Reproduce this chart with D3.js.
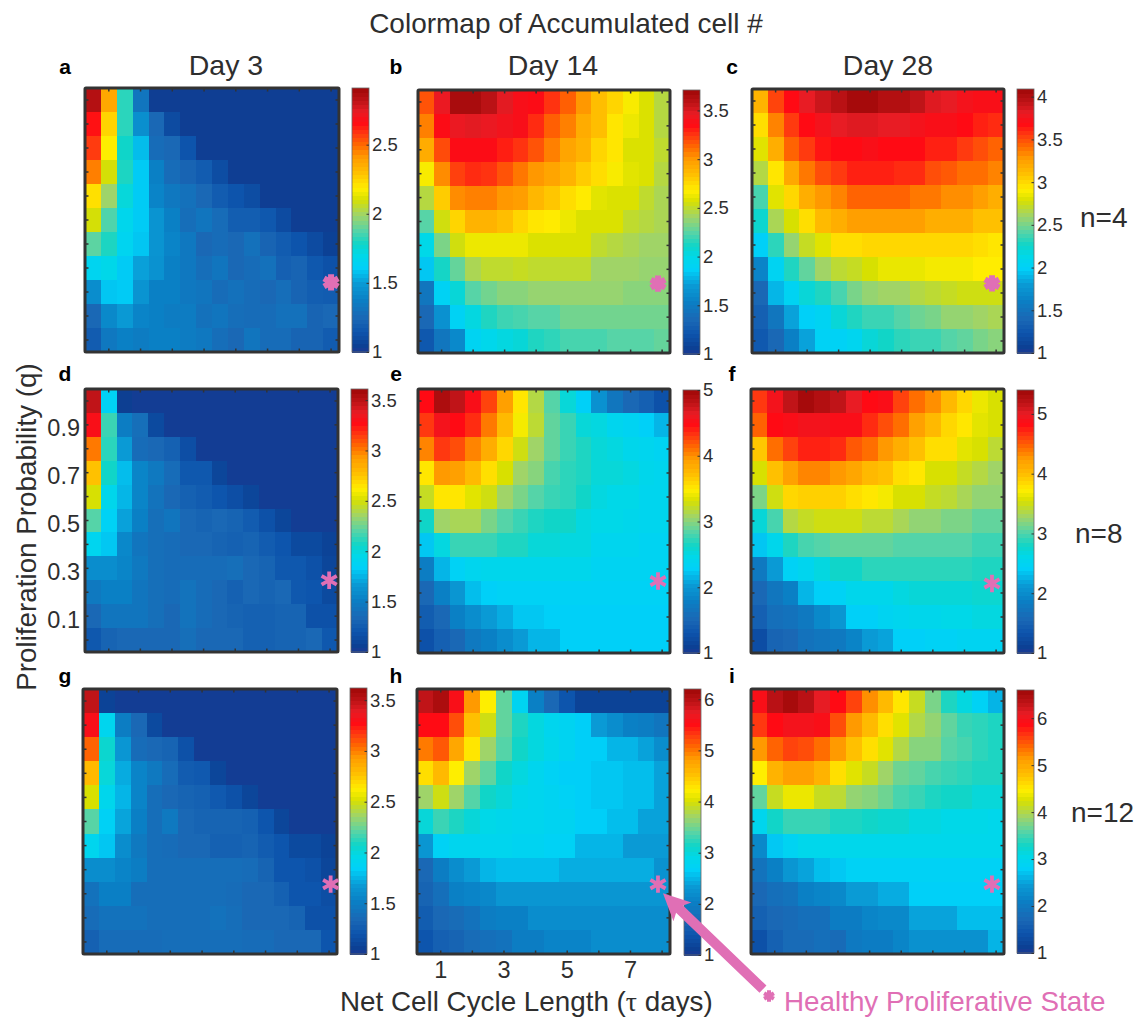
<!DOCTYPE html>
<html>
<head>
<meta charset="utf-8">
<script src="https://cdn.jsdelivr.net/npm/d3@7"></script>
<style>
body{margin:0;background:#fff;}
text{font-family:"Liberation Sans",Arial,sans-serif;fill:#2e2e2e;}
</style>
</head>
<body>
<div id="chart"></div>
<script>
const tauValues = [0.5,1,1.5,2,2.5,3,3.5,4,4.5,5,5.5,6,6.5,7,7.5,8];
const qValues = [1,0.9,0.8,0.7,0.6,0.5,0.4,0.3,0.2,0.1,0];
const tauTicks = [1,3,5,7];
const qTicks = [0.9,0.7,0.5,0.3,0.1];
const panelLetters = ["a","b","c","d","e","f","g","h","i"];
const dayLabels = ["Day 3","Day 14","Day 28"];
const nLabels = ["n=4","n=8","n=12"];
const barMax = [2.91,3.71,4.09,3.61,5,5.4,3.62,6.2,6.6];
const barTicks = [
  [1,1.5,2,2.5],[1,1.5,2,2.5,3,3.5],[1,1.5,2,2.5,3,3.5,4],
  [1,1.5,2,2.5,3,3.5],[1,2,3,4,5],[1,2,3,4,5],
  [1,1.5,2,2.5,3,3.5],[1,2,3,4,5,6],[1,2,3,4,5,6]
];
const healthyTau = [8,7.87,7.87,7.97,7.87,7.87,8.05,7.87,7.87];
const healthyQ = [0.24,0.24,0.24,0.25,0.25,0.24,0.24,0.24,0.24];

const dataA = [
[2.85,2.37,1.82,1.32,1.03,1.03,1.03,1.03,1.03,1.03,1.03,1.03,1.03,1.03,1.03,1.03],
[2.65,2.25,1.82,1.45,1.25,1.1,1.03,1.03,1.03,1.03,1.03,1.03,1.03,1.03,1.03,1.03],
[2.58,2.18,1.78,1.57,1.27,1.25,1.15,1.03,1.03,1.03,1.03,1.03,1.03,1.03,1.03,1.03],
[2.46,2.1,1.8,1.6,1.38,1.27,1.23,1.19,1.11,1.03,1.03,1.03,1.03,1.03,1.03,1.03],
[2.22,1.99,1.74,1.6,1.4,1.34,1.3,1.25,1.19,1.15,1.11,1.03,1.03,1.03,1.03,1.03],
[2.1,1.87,1.68,1.6,1.47,1.38,1.28,1.32,1.27,1.2,1.2,1.17,1.1,1.03,1.03,1.03],
[1.89,1.8,1.66,1.59,1.47,1.4,1.34,1.25,1.27,1.25,1.3,1.23,1.19,1.15,1.1,1.05],
[1.66,1.7,1.6,1.51,1.46,1.38,1.34,1.28,1.32,1.25,1.27,1.3,1.21,1.23,1.17,1.13],
[1.44,1.59,1.6,1.47,1.38,1.38,1.34,1.32,1.27,1.3,1.27,1.25,1.28,1.23,1.2,1.19],
[1.25,1.42,1.49,1.4,1.38,1.36,1.36,1.3,1.32,1.28,1.27,1.27,1.3,1.3,1.23,1.25],
[1.19,1.34,1.38,1.36,1.38,1.38,1.36,1.34,1.28,1.25,1.32,1.27,1.27,1.23,1.23,1.19]];
const dataB = [
[3.18,3.45,3.67,3.67,3.6,3.48,3.39,3.37,3.26,3.15,3.01,2.85,2.77,2.66,2.58,2.47],
[3.07,3.37,3.45,3.48,3.45,3.42,3.39,3.28,3.15,3.07,2.93,2.85,2.71,2.63,2.58,2.47],
[2.93,3.2,3.37,3.37,3.37,3.31,3.26,3.18,3.07,2.96,2.9,2.77,2.71,2.58,2.58,2.5],
[2.66,3.04,3.23,3.28,3.26,3.18,3.09,3.01,2.96,2.9,2.8,2.74,2.66,2.6,2.58,2.47],
[2.47,2.8,3.04,3.07,3.07,3.01,2.99,2.88,2.82,2.74,2.69,2.6,2.58,2.58,2.5,2.44],
[2.25,2.55,2.77,2.9,2.9,2.85,2.77,2.71,2.69,2.63,2.58,2.58,2.58,2.5,2.47,2.44],
[2,2.33,2.55,2.63,2.63,2.63,2.63,2.58,2.58,2.58,2.58,2.5,2.47,2.44,2.41,2.41],
[1.84,2.12,2.28,2.44,2.5,2.5,2.52,2.5,2.5,2.5,2.5,2.41,2.41,2.41,2.39,2.39],
[1.46,1.9,2.06,2.25,2.31,2.36,2.36,2.39,2.39,2.39,2.39,2.39,2.39,2.36,2.36,2.36],
[1.35,1.65,1.9,2.03,2.14,2.2,2.22,2.25,2.25,2.31,2.31,2.31,2.31,2.31,2.31,2.31],
[1.24,1.46,1.6,1.92,1.98,2.03,2.06,2.14,2.17,2.22,2.22,2.22,2.25,2.25,2.25,2.28]];
const dataC = [
[3.16,3.53,3.69,3.81,3.9,3.97,4.06,4.06,4,4,3.94,3.84,3.81,3.75,3.72,3.72],
[2.98,3.35,3.56,3.69,3.75,3.81,3.84,3.84,3.81,3.81,3.75,3.72,3.72,3.69,3.63,3.6],
[2.82,3.19,3.44,3.56,3.66,3.69,3.69,3.72,3.69,3.69,3.69,3.63,3.63,3.56,3.5,3.44],
[2.67,2.95,3.22,3.38,3.5,3.56,3.63,3.63,3.63,3.6,3.6,3.5,3.47,3.41,3.41,3.35],
[2.39,2.82,3.01,3.19,3.29,3.35,3.44,3.44,3.44,3.44,3.38,3.38,3.32,3.32,3.26,3.19],
[2.24,2.64,2.79,2.98,3.13,3.19,3.26,3.26,3.26,3.26,3.26,3.19,3.19,3.19,3.1,3.1],
[1.99,2.33,2.58,2.73,2.82,2.98,2.98,3.01,3.01,3.01,3.01,3.01,3.01,3.01,2.98,2.95],
[1.65,2.05,2.3,2.45,2.61,2.7,2.73,2.79,2.85,2.85,2.85,2.88,2.88,2.88,2.92,2.92],
[1.4,1.9,2.05,2.21,2.3,2.39,2.51,2.58,2.61,2.61,2.67,2.7,2.73,2.76,2.76,2.76],
[1.34,1.53,1.83,1.99,2.05,2.21,2.3,2.36,2.36,2.42,2.48,2.51,2.58,2.58,2.61,2.64],
[1.28,1.4,1.62,1.83,2.02,2.02,2.08,2.21,2.27,2.33,2.36,2.36,2.42,2.45,2.51,2.55]];
const dataD = [
[3.48,1.86,1.05,1.03,1.03,1.03,1.03,1.03,1.03,1.03,1.03,1.03,1.03,1.03,1.03,1.03],
[3.3,2.15,1.5,1.39,1.13,1.03,1.03,1.03,1.03,1.03,1.03,1.03,1.03,1.03,1.03,1.03],
[3.01,2.12,1.68,1.37,1.34,1.29,1.16,1.03,1.03,1.03,1.03,1.03,1.03,1.03,1.03,1.03],
[2.77,2.07,1.78,1.55,1.47,1.37,1.23,1.23,1.1,1.03,1.03,1.03,1.03,1.03,1.03,1.03],
[2.51,1.94,1.76,1.55,1.42,1.34,1.29,1.26,1.21,1.16,1.1,1.03,1.03,1.03,1.03,1.03],
[2.2,1.86,1.7,1.52,1.39,1.44,1.34,1.31,1.34,1.31,1.26,1.18,1.1,1.03,1.03,1.03],
[1.91,1.81,1.57,1.44,1.39,1.37,1.34,1.34,1.31,1.29,1.31,1.26,1.21,1.13,1.13,1.08],
[1.6,1.6,1.55,1.47,1.39,1.37,1.37,1.37,1.37,1.39,1.34,1.31,1.23,1.23,1.18,1.1],
[1.47,1.52,1.52,1.44,1.39,1.37,1.42,1.37,1.34,1.29,1.34,1.31,1.34,1.23,1.21,1.13],
[1.34,1.44,1.44,1.44,1.39,1.34,1.42,1.37,1.34,1.31,1.29,1.29,1.31,1.31,1.18,1.18],
[1.23,1.31,1.34,1.34,1.34,1.34,1.39,1.34,1.34,1.34,1.29,1.29,1.31,1.31,1.34,1.23]];
const dataE = [
[4.48,4.92,4.8,4.52,4.28,3.92,3.52,3.16,2.84,2.56,2.28,1.96,1.68,1.52,1.44,1.28],
[4.32,4.56,4.48,4.36,4.08,3.76,3.44,3.2,2.88,2.76,2.56,2.52,2.4,2.36,2.28,2.16],
[4.04,4.32,4.24,4.04,3.84,3.6,3.28,3.08,2.88,2.76,2.68,2.56,2.52,2.44,2.4,2.36],
[3.52,3.96,3.92,3.76,3.56,3.32,3.08,3,2.8,2.72,2.68,2.56,2.56,2.52,2.44,2.4],
[3.24,3.52,3.52,3.36,3.28,3.08,2.96,2.84,2.76,2.72,2.64,2.52,2.48,2.48,2.4,2.4],
[2.64,3.08,3.12,3.12,2.96,2.84,2.76,2.68,2.64,2.64,2.52,2.48,2.48,2.44,2.4,2.4],
[2.24,2.52,2.76,2.76,2.76,2.68,2.68,2.56,2.56,2.52,2.52,2.4,2.4,2.4,2.36,2.36],
[1.76,2.16,2.32,2.4,2.44,2.44,2.44,2.44,2.44,2.44,2.44,2.36,2.36,2.36,2.36,2.36],
[1.52,1.8,2,2.2,2.28,2.32,2.32,2.32,2.32,2.32,2.32,2.32,2.32,2.32,2.32,2.32],
[1.4,1.52,1.8,1.92,2.04,2.12,2.24,2.24,2.28,2.28,2.28,2.28,2.28,2.28,2.28,2.28],
[1.28,1.44,1.52,1.72,1.8,1.92,2.04,2.16,2.16,2.28,2.28,2.28,2.28,2.28,2.28,2.28]];
const dataF = [
[4.65,4.92,5.18,5.36,5.27,5.18,5,4.83,4.87,4.61,4.43,4.3,4.04,3.86,3.64,3.55],
[4.48,4.83,4.87,4.92,4.92,4.87,4.87,4.7,4.56,4.43,4.21,4.04,3.86,3.77,3.6,3.55],
[3.95,4.43,4.61,4.74,4.74,4.7,4.52,4.43,4.26,4.12,3.99,3.82,3.82,3.6,3.55,3.42],
[3.55,3.99,4.21,4.34,4.34,4.26,4.17,4.04,3.99,3.82,3.77,3.55,3.55,3.46,3.38,3.29],
[3.16,3.51,3.86,3.9,3.9,3.9,3.82,3.77,3.68,3.55,3.55,3.46,3.42,3.33,3.24,3.24],
[2.72,2.98,3.38,3.46,3.51,3.51,3.51,3.42,3.42,3.33,3.24,3.24,3.16,3.16,3.07,3.07],
[2.36,2.58,2.85,2.98,3.02,3.07,3.07,3.07,3.07,3.02,3.02,3.02,3.02,3.02,2.94,2.94],
[1.79,2.14,2.45,2.54,2.67,2.8,2.8,2.89,2.89,2.89,2.89,2.89,2.89,2.89,2.85,2.85],
[1.57,1.75,1.88,2.28,2.41,2.45,2.58,2.58,2.58,2.67,2.72,2.72,2.72,2.72,2.76,2.76],
[1.48,1.66,1.7,1.79,1.97,2.1,2.41,2.41,2.5,2.54,2.58,2.58,2.63,2.63,2.67,2.67],
[1.26,1.53,1.57,1.7,1.75,1.79,1.92,2.14,2.19,2.41,2.41,2.45,2.45,2.5,2.5,2.5]];
const dataG = [
[3.49,1.08,1.03,1.03,1.03,1.03,1.03,1.03,1.03,1.03,1.03,1.03,1.03,1.03,1.03,1.03],
[3.31,1.92,1.5,1.34,1.13,1.03,1.03,1.03,1.03,1.03,1.03,1.03,1.03,1.03,1.03,1.03],
[3.07,2.05,1.66,1.37,1.34,1.31,1.18,1.03,1.03,1.03,1.03,1.03,1.03,1.03,1.03,1.03],
[2.81,2.02,1.73,1.55,1.47,1.37,1.26,1.24,1.1,1.03,1.03,1.03,1.03,1.03,1.03,1.03],
[2.52,1.94,1.76,1.55,1.39,1.34,1.31,1.29,1.24,1.18,1.1,1.03,1.03,1.03,1.03,1.03],
[2.21,1.86,1.71,1.52,1.39,1.47,1.34,1.31,1.31,1.31,1.29,1.21,1.1,1.03,1.03,1.03],
[1.92,1.81,1.6,1.47,1.39,1.37,1.34,1.34,1.29,1.29,1.31,1.26,1.21,1.13,1.13,1.08],
[1.6,1.6,1.55,1.5,1.39,1.39,1.39,1.39,1.39,1.39,1.37,1.31,1.21,1.21,1.18,1.1],
[1.42,1.52,1.52,1.39,1.39,1.39,1.39,1.39,1.39,1.37,1.34,1.34,1.29,1.21,1.21,1.16],
[1.37,1.42,1.42,1.42,1.39,1.39,1.39,1.39,1.42,1.39,1.34,1.34,1.34,1.31,1.18,1.18],
[1.29,1.37,1.37,1.37,1.37,1.39,1.39,1.39,1.39,1.39,1.37,1.37,1.34,1.34,1.34,1.21]];
const dataH = [
[5.94,6.1,5.58,4.85,4.22,3.44,2.77,2.04,1.68,1.42,1.16,1.16,1.16,1.16,1.16,1.16],
[5.52,5.52,5.21,4.54,3.96,3.44,3.18,2.98,2.82,2.77,2.66,2.35,2.2,2.04,1.99,1.88],
[5,5.16,4.74,4.28,3.7,3.39,3.13,2.98,2.87,2.77,2.66,2.66,2.51,2.51,2.4,2.2],
[4.33,4.59,4.22,3.7,3.44,3.13,2.98,2.82,2.72,2.66,2.66,2.61,2.61,2.56,2.56,2.4],
[3.7,3.96,3.7,3.39,3.13,3.03,2.87,2.82,2.77,2.72,2.66,2.61,2.61,2.56,2.56,2.4],
[3.03,3.29,3.18,3.03,2.92,2.87,2.82,2.82,2.77,2.77,2.66,2.66,2.56,2.56,2.4,2.4],
[2.3,2.72,2.82,2.82,2.82,2.82,2.77,2.77,2.72,2.72,2.51,2.51,2.51,2.35,2.35,2.35],
[1.68,1.99,2.2,2.35,2.51,2.56,2.56,2.56,2.56,2.46,2.46,2.46,2.46,2.46,2.46,2.25],
[1.62,1.78,2.04,2.09,2.14,2.3,2.3,2.3,2.3,2.3,2.3,2.3,2.3,2.3,2.3,2.3],
[1.52,1.68,1.73,1.83,1.99,2.04,2.04,2.2,2.2,2.2,2.2,2.2,2.2,2.2,2.2,2.2],
[1.42,1.57,1.62,1.73,1.78,1.83,1.99,1.99,2.09,2.09,2.09,2.2,2.2,2.2,2.2,2.2]];
const dataI = [
[5.93,6.38,6.54,6.38,6.1,5.87,5.59,5.2,4.86,4.53,4.14,3.74,3.35,3.13,2.85,2.62],
[5.65,5.87,5.98,5.98,5.93,5.54,5.14,4.86,4.58,4.3,4.02,3.86,3.63,3.46,3.41,3.35],
[5.14,5.42,5.59,5.54,5.37,5.14,4.81,4.58,4.3,4.02,3.8,3.8,3.58,3.52,3.41,3.35],
[4.47,4.92,5.09,5.09,4.92,4.58,4.3,4.14,3.91,3.69,3.63,3.52,3.46,3.41,3.35,3.35],
[3.63,4.14,4.36,4.36,4.14,4.08,3.86,3.8,3.69,3.52,3.46,3.35,3.3,3.3,3.18,3.18],
[2.96,3.3,3.46,3.46,3.46,3.35,3.35,3.3,3.24,3.24,3.13,3.13,3.07,3.07,3.07,3.02],
[2.23,2.74,2.9,3.02,3.02,3.02,3.02,3.02,3.02,3.02,3.02,3.02,3.02,3.02,3.02,3.02],
[1.9,2.12,2.4,2.51,2.68,2.74,2.85,2.85,2.85,2.85,2.85,2.85,2.85,2.85,2.85,2.85],
[1.73,1.84,1.9,2.12,2.18,2.23,2.46,2.46,2.57,2.57,2.79,2.79,2.79,2.79,2.79,2.79],
[1.62,1.73,1.78,1.84,1.84,2.06,2.06,2.18,2.23,2.23,2.51,2.51,2.51,2.68,2.68,2.68],
[1.39,1.62,1.78,1.78,1.84,1.78,2.01,2.06,2.06,2.18,2.34,2.34,2.34,2.34,2.34,2.62]];

const panelData = [dataA,dataB,dataC,dataD,dataE,dataF,dataG,dataH,dataI];

// colormap stops
const cmapPos = [0,.02,.08,.13,.2,.26,.32,.37,.41,.46,.52,.58,.62,.68,.74,.785,.83,.87,.91,.95,1];
const cmapCol = ["#1c3a96","#0c3f92","#0d55ad","#1a68b5","#0a80c5","#0a9ad5","#00d0f8","#00d8e8","#10d5c8","#55d4a8","#a0d468","#d8e000","#ffee00","#ffc000","#ff9a00","#ff6800","#ff3810","#ff0a14","#e81c24","#c01418","#a00808"];
const cmap = d3.scaleLinear().domain(cmapPos).range(cmapCol);
const levels = d3.range(64);

const pink = "#e06fb5";

// frame rectangles of each panel and colorbar
const boxes = [
  {x:85,y:88,w:254,h:264,bx:352,by:88,bh:264},
  {x:418,y:90,w:252,h:263,bx:683,by:90,bh:264},
  {x:752,y:89,w:252,h:264,bx:1017,by:89,bh:264},
  {x:85,y:389,w:253,h:263,bx:351,by:389,bh:263},
  {x:418,y:389,w:252,h:264,bx:683,by:390,bh:263},
  {x:751,y:389,w:253,h:264,bx:1017,by:390,bh:263},
  {x:83,y:689,w:254,h:265,bx:350,by:688,bh:266},
  {x:417,y:689,w:253,h:265,bx:684,by:689,bh:266},
  {x:751,y:689,w:253,h:265,bx:1017,by:690,bh:263}
];

const svg = d3.select("#chart").append("svg")
  .attr("width",1137).attr("height",1018)
  .style("display","block");

const star = d3.symbol().type(d3.symbolAsterisk);

panelData.forEach((rows,p)=>{
  const b = boxes[p];
  const xScale = d3.scaleBand().domain(tauValues).range([b.x,b.x+b.w]);
  const yScale = d3.scaleBand().domain(qValues).range([b.y,b.y+b.h]);
  const tScale = d3.scaleLinear().domain([1,barMax[p]]).range([0,1]).clamp(true);

  const g = svg.append("g").attr("class","panel");
  rows.forEach((row,r)=>{
    g.selectAll(null).data(row).enter().append("rect")
      .attr("x",(d,i)=>xScale(tauValues[i]))
      .attr("y",yScale(qValues[r]))
      .attr("width",xScale.bandwidth()+0.5)
      .attr("height",yScale.bandwidth()+0.5)
      .attr("shape-rendering","crispEdges")
      .attr("fill",d=>cmap(tScale(d)));
  });

  // frame, with small inward matlab ticks
  const frame = "#333";
  tauValues.forEach((t,i)=>{
    if(i%2==0) return;
    [b.y,b.y+b.h].forEach((yy,k)=>{
      g.append("line").attr("x1",xScale(t)+xScale.bandwidth()/2).attr("x2",xScale(t)+xScale.bandwidth()/2)
        .attr("y1",yy).attr("y2",yy+(k?-3.5:3.5)).attr("stroke",frame).attr("stroke-width",1.5);
    });
  });
  qValues.forEach(q=>{
    [b.x,b.x+b.w].forEach((xx,k)=>{
      g.append("line").attr("y1",yScale(q)+yScale.bandwidth()/2).attr("y2",yScale(q)+yScale.bandwidth()/2)
        .attr("x1",xx).attr("x2",xx+(k?-3.5:3.5)).attr("stroke",frame).attr("stroke-width",1.5);
    });
  });
  g.append("rect").attr("x",b.x).attr("y",b.y).attr("width",b.w).attr("height",b.h)
    .attr("fill","none").attr("stroke",frame).attr("stroke-width",3).attr("rx",1);

  // healthy state marker
  const tauPos = d3.scaleLinear().domain([0.25,8.25]).range([b.x,b.x+b.w]);
  const qPos = d3.scaleLinear().domain([1.05,-0.05]).range([b.y,b.y+b.h]);
  const sx = tauPos(healthyTau[p]), sy = qPos(healthyQ[p]);
  const thick = p<3 ? 6 : 3.8;
  g.append("path").attr("d",star.size(p<3?190:215)())
    .attr("transform",`translate(${sx},${sy})`)
    .attr("fill","none").attr("stroke",pink).attr("stroke-width",thick);
  b.sx = sx; b.sy = sy;

  // colorbar
  const barW = 17;
  const barScale = d3.scaleLinear().domain([1,barMax[p]]).range([b.by+b.bh,b.by]);
  const levelH = b.bh/levels.length;
  const bar = svg.append("g").attr("class","colorbar");
  bar.selectAll("rect").data(levels).enter().append("rect")
    .attr("x",b.bx).attr("width",barW)
    .attr("y",d=>barScale(1+(barMax[p]-1)*(d+1)/levels.length))
    .attr("height",levelH+0.5)
    .attr("shape-rendering","crispEdges")
    .attr("fill",d=>cmap((d+0.5)/levels.length));
  bar.append("rect").attr("x",b.bx).attr("y",b.by).attr("width",barW).attr("height",b.bh)
    .attr("fill","none").attr("stroke","#666").attr("stroke-width",0.8);
  const barAxis = bar.append("g").attr("transform",`translate(${b.bx+barW},0)`)
    .call(d3.axisRight(barScale).tickValues(barTicks[p]).tickFormat(d3.format("~g")).tickSize(-2.5).tickPadding(3));
  barAxis.select(".domain").remove();
  barAxis.selectAll("line").attr("stroke","#333");
  barAxis.selectAll("text").style("font-size","18.5px").style("font-family",'"Liberation Sans"').attr("fill","#222");

  // tick labels only on d and h
  if(p==3){
    const ya = g.append("g").attr("transform",`translate(${b.x},0)`)
      .call(d3.axisLeft(yScale).tickValues(qTicks).tickSize(0).tickPadding(5));
    ya.select(".domain").remove();
    ya.selectAll("text").style("font-size","23.5px").style("font-family",'"Liberation Sans"').attr("fill","#222").attr("dy","0.62em").attr("y",-3);
  }
  if(p==7){
    const xa = g.append("g").attr("transform",`translate(0,${b.y+b.h})`)
      .call(d3.axisBottom(xScale).tickValues(tauTicks).tickSize(0).tickPadding(7));
    xa.select(".domain").remove();
    xa.selectAll("text").style("font-size","23.5px").style("font-family",'"Liberation Sans"').attr("fill","#222");
  }

  // panel letter
  const col = p%3, row = Math.floor(p/3);
  svg.append("text").text(panelLetters[p])
    .attr("x",[65,396,732][col]).attr("y",[74,381,683][row])
    .attr("text-anchor","middle").style("font-weight","bold").style("font-size","21px").style("fill","#000");
});

// titles
const addText = (str,x,y,size,anchor,color)=>svg.append("text").text(str)
  .attr("x",x).attr("y",y).attr("text-anchor",anchor||"middle")
  .style("font-size",size+"px").style("fill",color||"#2e2e2e");

addText("Colormap of Accumulated cell #",566,33,28);
dayLabels.forEach((d,i)=>addText(d,[226,553,888][i],75,28.5));
nLabels.forEach((d,i)=>addText(d,[1080,1075,1071][i],[227,543,822][i],28,"start"));

svg.append("text").text("Proliferation Probability (q)")
  .attr("transform","translate(36,527) rotate(-90)")
  .attr("text-anchor","middle").style("font-size","27.8px");

const xTitle = addText("Net Cell Cycle Length (",340,1011,27.8,"start");
xTitle.append("tspan").text("τ").style("font-family",'"Liberation Serif"');
xTitle.append("tspan").text(" days)");

// arrow from legend to the marker in panel h
const h = boxes[7];
const tip = [h.sx+5,h.sy+9];
const tail = [tip[0]+100,tip[1]+96];
const ang = Math.atan2(tail[1]-tip[1],tail[0]-tip[0]);
const headLen = 27, headW = 13, shaft = 5;
const along = (d,off)=>[
  tip[0]+Math.cos(ang)*d-Math.sin(ang)*off,
  tip[1]+Math.sin(ang)*d+Math.cos(ang)*off
];
const arrowPts = [along(0,0),along(headLen,headW),along(headLen*0.85,shaft),
  along(Math.hypot(100,96),shaft),along(Math.hypot(100,96),-shaft),along(headLen*0.85,-shaft),along(headLen,-headW)];
svg.append("path").attr("d",d3.line()(arrowPts)+"Z").attr("fill",pink);

svg.append("path").attr("d",star.size(90)())
  .attr("transform","translate(769,996)")
  .attr("fill","none").attr("stroke",pink).attr("stroke-width",4);
addText("Healthy Proliferative State",784,1011,27.8,"start",pink);
</script>
</body>
</html>
